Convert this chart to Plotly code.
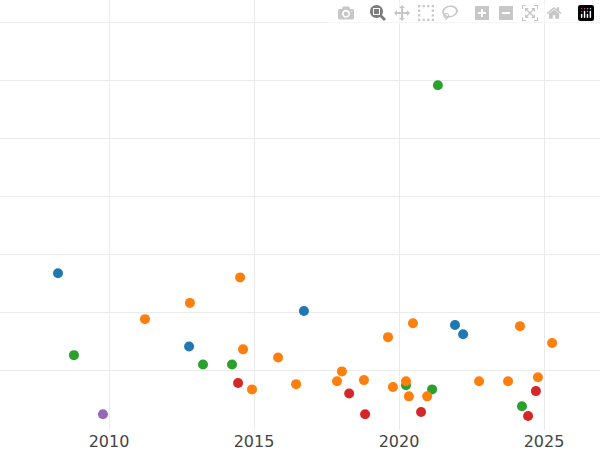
import plotly.graph_objects as go

blue_x = [2008.24, 2012.76, 2016.72, 2021.93, 2022.21]
blue_y = [2.67, 1.41, 2.02, 1.78, 1.62]
green_x = [2008.79, 2013.24, 2014.24, 2021.34, 2020.24, 2021.14, 2024.24]
green_y = [1.26, 1.10, 1.10, 5.91, 0.74, 0.67, 0.38]
purple_x = [2009.79]
purple_y = [0.24]
orange_x = [2011.24, 2012.79, 2014.52, 2014.62, 2014.93, 2015.83, 2016.45, 2017.86, 2018.03,
            2018.79, 2019.62, 2019.79, 2020.24, 2020.34, 2020.48, 2020.97, 2022.76, 2023.76,
            2024.17, 2024.79, 2025.28]
orange_y = [1.88, 2.16, 2.60, 1.36, 0.67, 1.22, 0.76, 0.81, 0.98,
            0.83, 1.57, 0.71, 0.81, 0.55, 1.81, 0.55, 0.81, 0.81,
            1.76, 0.88, 1.47]
red_x = [2014.45, 2018.28, 2018.83, 2020.76, 2024.45, 2024.72]
red_y = [0.78, 0.60, 0.24, 0.28, 0.21, 0.64]

fig = go.Figure()
for xs, ys, c in [(blue_x, blue_y, "#1f77b4"), (green_x, green_y, "#2ca02c"),
                  (purple_x, purple_y, "#9467bd"), (orange_x, orange_y, "#ff7f0e"),
                  (red_x, red_y, "#d62728")]:
    fig.add_trace(go.Scatter(x=xs, y=ys, mode="markers",
                             marker=dict(color=c, size=10), showlegend=False))

fig.update_layout(
    template="plotly_white", width=600, height=450,
    margin=dict(l=0, r=0, t=0, b=20),
    font=dict(family="DejaVu Sans"),
    xaxis=dict(range=[2006.24, 2026.93], tickvals=[2010, 2015, 2020, 2025],
               tickfont=dict(size=16, color="#444"), showline=False, zeroline=False,
               gridcolor="#ebebeb"),
    yaxis=dict(range=[-0.03, 7.38], tickvals=[1, 2, 3, 4, 5, 6, 7],
               showticklabels=False, zeroline=False, gridcolor="#ebebeb"),
)
html = fig.to_html()
html = html.replace("<head>", "<head><style>html,body{margin:0;padding:0;overflow:hidden;}</style>", 1)
with open("out.html", "w", encoding="utf-8") as f:
    f.write(html)
